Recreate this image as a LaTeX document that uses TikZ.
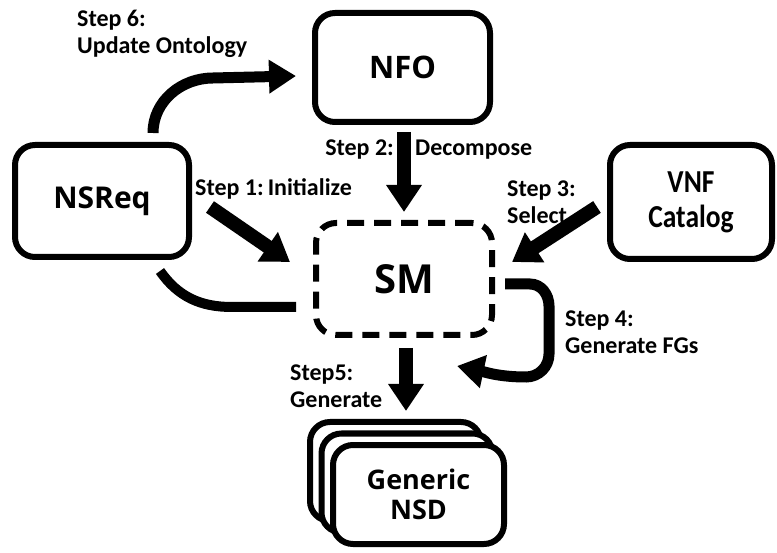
\documentclass[tikz,border=0pt]{standalone}
\usepackage{fontspec}
\setmainfont{Carlito}
\newfontfamily\boxfont{Open Sans}
\newfontfamily\narrowfont[FakeStretch=0.86]{Carlito}
\usetikzlibrary{arrows.meta}
\begin{document}
\begin{tikzpicture}[x=1pt,y=-1pt,
  box/.style={draw,line width=6pt,rounded corners=20pt,fill=white,align=center,inner sep=0pt,
    font=\boxfont\bfseries\fontsize{31}{34}\selectfont},
  dashbox/.style={box,dash pattern=on 17pt off 10pt},
  bigarrow/.style={line width=14pt,-{Triangle[length=27pt,width=34pt]}},
  curvearrow/.style={line width=11pt,-{Triangle[length=27pt,width=32pt]}},
  plainline/.style={line width=10pt},
  steplabel/.style={anchor=north west,inner sep=0pt,align=left,font=\bfseries\fontsize{24}{27}\selectfont}]
\useasboundingbox (0,0) rectangle (777,553);

% boxes
\node[box,minimum width=175pt,minimum height=109pt] (nfo) at (402.5,67.5) {NFO};
\node[box,minimum width=174pt,minimum height=112pt,font=\boxfont\bfseries\fontsize{30}{33}\selectfont] (nsreq) at (102,201) {NSReq};
\node[box,minimum width=162pt,minimum height=114pt,font=\narrowfont\bfseries\fontsize{32}{35}\selectfont] (vnf) at (691,202) {VNF\\Catalog};
\node[dashbox,minimum width=176pt,minimum height=112pt,font=\boxfont\bfseries\fontsize{40}{44}\selectfont] (sm) at (404,279) {SM};

% stacked descriptor boxes
\node[box,minimum width=171pt,minimum height=99pt] (nsdb) at (395.5,471.5) {};
\node[box,minimum width=171pt,minimum height=99pt] (nsdm) at (407,483) {};
\node[box,minimum width=171pt,minimum height=99pt,font=\boxfont\bfseries\fontsize{27}{30}\selectfont] (nsd) at (418.5,494.5) {Generic\\NSD};

% arrow end points
\coordinate (s1a) at (210,207);
\coordinate (s1b) at (290,262);
\coordinate (s3a) at (597,207);
\coordinate (s3b) at (512,262);
\coordinate (s5a) at (406,348);
\coordinate (s5b) at (406,411);
\coordinate (s4a) at (505,284);
\coordinate (s4b) at (457,366);
\coordinate (s6a) at (153,133);
\coordinate (s6b) at (296,76);
\coordinate (lna) at (160,271);
\coordinate (lnb) at (296,307);

% step 2
\draw[bigarrow,shorten <=7pt,shorten >=8pt] (nfo.south -| sm.north) -- (sm.north);
% step 1 and step 3
\draw[bigarrow] (s1a) -- (s1b);
\draw[bigarrow] (s3a) -- (s3b);
% step 5
\draw[bigarrow] (s5a) -- (s5b);
% step 4 loop
\draw[curvearrow] (s4a) -- (530,284) to[out=0,in=90] (549,306) -- (549,354)
  to[out=-90,in=0] (526,377) to[out=180,in=-12] (s4b);
% step 6
\draw[curvearrow] (s6a) to[out=90,in=180] (213,78) -- (s6b);
% line from NSReq to SM
\draw[plainline] (lna) to[out=-55,in=180] (232,307) -- (lnb);

% labels
\node[steplabel] (l6) at (77,10) {Step 6:\\Update Ontology};
\node[steplabel,anchor=north east] (l2a) at (394,140) {Step 2:};
\node[steplabel] (l2b) at (415,140) {Decompose};
\node[steplabel] (l1) at (195,178) {Step 1:\,Initialize};
\node[steplabel] (l3) at (507,181) {Step 3:\\Select};
\node[steplabel] (l4) at (565,311) {Step 4:\\Generate FGs};
\node[steplabel] (l5) at (290,365) {Step5:\\Generate};
\end{tikzpicture}
\end{document}
